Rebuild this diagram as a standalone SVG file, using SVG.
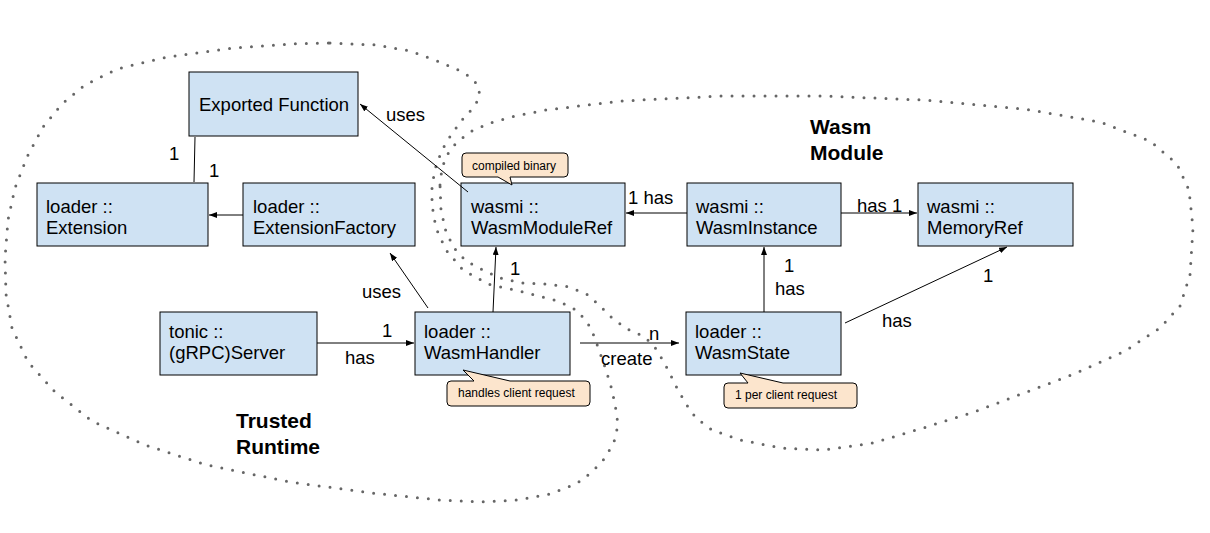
<svg xmlns="http://www.w3.org/2000/svg" width="1210" height="533" viewBox="0 0 1210 533">
<style>
.bg{fill:#ffffff}
.node rect{fill:#cfe2f3;stroke:#000;stroke-width:1}
.node text,.lbl{font-family:"Liberation Sans",Arial,sans-serif;font-size:18.5px;fill:#000}
.title{font-family:"Liberation Sans",Arial,sans-serif;font-size:21px;font-weight:bold;fill:#000}
.dots{fill:none;stroke:#666;stroke-width:3;stroke-linecap:round;stroke-linejoin:round;stroke-dasharray:0 11}
.conn{fill:none;stroke:#000;stroke-width:1}
.call path{fill:#fce5cd;stroke:#000;stroke-width:1}
.call text{font-family:"Liberation Sans",Arial,sans-serif;font-size:12px;fill:#000}
</style>
<defs>
<marker id="arr" markerUnits="userSpaceOnUse" markerWidth="8" markerHeight="6" refX="8" refY="3" orient="auto">
<path d="M0,0 L8,3 L0,6 Z" fill="#000"/>
</marker>
</defs>
<rect class="bg" x="0" y="0" width="1210" height="533"/>

<g id="regions">
<path id="trusted-runtime-boundary" class="dots" d="M330,43 L377,45 L410,51 L440,62 L465,73 L478,85 L480,97 L473,108 L462,120 L451,135 L442,150 L436,166 L432,185 L432,205 L436,228 L446,250 L463,270 L488,284 L523,292 L558,301 L578,311 L591,328 L599,350 L606,370 L612,390 L616,410 L618,425 L614,442 L605,458 L592,472 L576,484 L550,494 L517,500 L480,502 L440,500 L372,493 L290,482 L207,465 L145,445 L92,421 L55,392 L28,362 L12,328 L6,294 L5,258 L8,220 L15,188 L27,157 L43,127 L62,104 L85,85 L117,69 L167,57 L233,48 L290,44 Z"/>
<path id="wasm-module-boundary" class="dots" d="M440,185 L442,168 L447,155 L456,143 L470,132 L490,123 L515,116 L546,110 L621,101 L722,96 L823,96 L923,100 L1024,109 L1100,122 L1150,141 L1177,164 L1189,190 L1193,228 L1190,275 L1180,306 L1160,328 L1125,351 L1074,374 L1024,393 L974,412 L923,428 L873,443 L823,450 L782,448 L740,440 L712,430 L696,418 L686,404 L677,388 L667,368 L657,350 L645,337 L627,329 L612,318 L600,306 L588,295 L570,287 L545,284 L522,283 L500,278 L483,270 L466,261 L454,248 L446,232 L441,210 Z"/>
<text class="title" x="236" y="428">Trusted</text>
<text class="title" x="236" y="454">Runtime</text>
<text class="title" x="810" y="134">Wasm</text>
<text class="title" x="810" y="160">Module</text>
</g>

<g id="exported-function" class="node">
<rect x="189" y="72" width="169" height="64"/>
<text x="199" y="111">Exported Function</text>
</g>
<g id="extension" class="node">
<rect x="37" y="183" width="171" height="63"/>
<text x="46" y="213">loader ::</text>
<text x="46" y="234">Extension</text>
</g>
<g id="extension-factory" class="node">
<rect x="243" y="183" width="172" height="63"/>
<text x="253" y="213">loader ::</text>
<text x="253" y="234">ExtensionFactory</text>
</g>
<g id="wasm-module-ref" class="node">
<rect x="461" y="183" width="164" height="63"/>
<text x="471" y="213">wasmi ::</text>
<text x="471" y="234">WasmModuleRef</text>
</g>
<g id="wasm-instance" class="node">
<rect x="687" y="183" width="154" height="63"/>
<text x="696" y="213">wasmi ::</text>
<text x="696" y="234">WasmInstance</text>
</g>
<g id="memory-ref" class="node">
<rect x="918" y="183" width="155" height="63"/>
<text x="927" y="213">wasmi ::</text>
<text x="927" y="234">MemoryRef</text>
</g>
<g id="grpc-server" class="node">
<rect x="160" y="312" width="157" height="63"/>
<text x="169" y="338">tonic ::</text>
<text x="169" y="359">(gRPC)Server</text>
</g>
<g id="wasm-handler" class="node">
<rect x="415" y="312" width="155" height="63"/>
<text x="424" y="338">loader ::</text>
<text x="424" y="359">WasmHandler</text>
</g>
<g id="wasm-state" class="node">
<rect x="686" y="312" width="155" height="63"/>
<text x="695" y="338">loader ::</text>
<text x="695" y="359">WasmState</text>
</g>

<g id="note-compiled-binary" class="call">
<path d="M466,153 H564 Q568,153 568,157 V173 Q568,177 564,177 H510 L512,185 L498,177 H466 Q462,177 462,173 V157 Q462,153 466,153 Z"/>
<text x="472" y="170">compiled binary</text>
</g>
<g id="note-handles-client-request" class="call">
<path d="M451,381 H474 L463,370 L510,381 H586 Q590,381 590,385 V402 Q590,406 586,406 H451 Q447,406 447,402 V385 Q447,381 451,381 Z"/>
<text x="458" y="397">handles client request</text>
</g>
<g id="note-per-client-request" class="call">
<path d="M728,383 H748 L740,373 L783,383 H853 Q857,383 857,387 V404 Q857,408 853,408 H728 Q724,408 724,404 V387 Q724,383 728,383 Z"/>
<text x="735" y="399">1 per client request</text>
</g>

<g id="connectors">
<path class="conn" d="M468,192 L360,104" marker-end="url(#arr)"/>
<text class="lbl" x="386" y="121">uses</text>
<path class="conn" d="M195,137 L194,182"/>
<text class="lbl" x="169" y="160">1</text>
<text class="lbl" x="209" y="177">1</text>
<path class="conn" d="M243,215 L209,215" marker-end="url(#arr)"/>
<path class="conn" d="M428,308 L390,253" marker-end="url(#arr)"/>
<text class="lbl" x="362" y="298">uses</text>
<path class="conn" d="M317,343 L414,343" marker-end="url(#arr)"/>
<text class="lbl" x="382" y="337">1</text>
<text class="lbl" x="345" y="364">has</text>
<path class="conn" d="M493,312 L496,247" marker-end="url(#arr)"/>
<text class="lbl" x="510" y="275">1</text>
<path class="conn" d="M580,343 L679,343" marker-end="url(#arr)"/>
<text class="lbl" x="649" y="340">n</text>
<text class="lbl" x="601" y="365">create</text>
<path class="conn" d="M687,213 L626,213" marker-end="url(#arr)"/>
<text class="lbl" x="628" y="204">1 has</text>
<path class="conn" d="M841,213 L917,213" marker-end="url(#arr)"/>
<text class="lbl" x="857" y="212">has 1</text>
<path class="conn" d="M764,312 L764,247" marker-end="url(#arr)"/>
<text class="lbl" x="784" y="272">1</text>
<text class="lbl" x="775" y="295">has</text>
<path class="conn" d="M845,323 L1007,247" marker-end="url(#arr)"/>
<text class="lbl" x="882" y="327">has</text>
<text class="lbl" x="983" y="282">1</text>
</g>
</svg>
